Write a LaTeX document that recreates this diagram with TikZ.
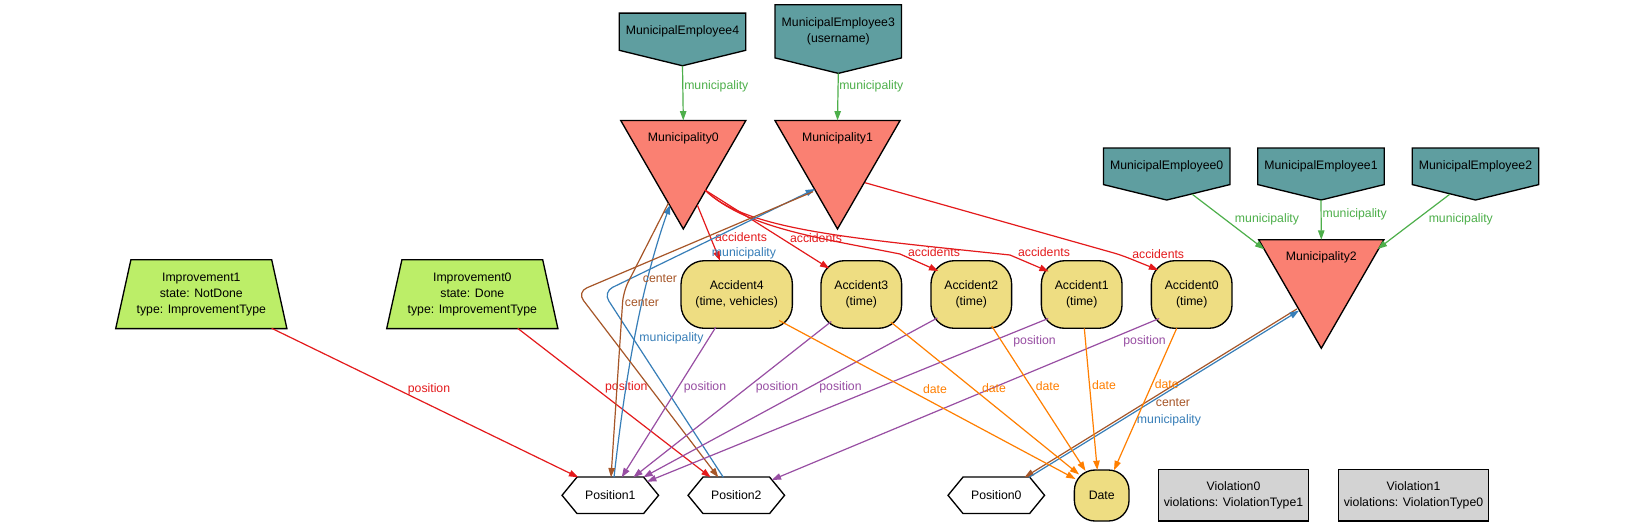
\documentclass[tikz,border=0pt]{standalone}
\usepackage{fontspec}
\setmainfont{Liberation Sans}
\usetikzlibrary{arrows.meta,calc}
\pgfdeclarelayer{bg}
\pgfdeclarelayer{shapes}
\pgfsetlayers{bg,shapes,main}
\definecolor{cadet}{HTML}{5F9EA0}
\definecolor{salmonc}{HTML}{FA8072}
\definecolor{accfill}{HTML}{EEDD82}
\definecolor{impfill}{HTML}{BCEE68}
\definecolor{violfill}{HTML}{D3D3D3}
\definecolor{cred}{HTML}{E41A1C}
\definecolor{cblue}{HTML}{377EB8}
\definecolor{cgreen}{HTML}{4DAF4A}
\definecolor{cpurple}{HTML}{984EA3}
\definecolor{corange}{HTML}{FF7F00}
\definecolor{cbrown}{HTML}{A65628}
\tikzset{
  base/.style={inner sep=0pt, align=center, font=\fontsize{9.2}{12}\selectfont, text=black},
  emp/.style={base, minimum width=94.5pt, minimum height=#1},
  muni/.style={base, minimum width=93.5pt, minimum height=26.4pt},
  acc/.style={base, draw=black, line width=1pt, fill=accfill, rounded corners=17.5pt, minimum height=50.7pt, minimum width=#1},
  datebox/.style={base, draw=black, line width=1pt, fill=accfill, rounded corners=15.5pt, minimum width=41pt, minimum height=38.25pt},
  posn/.style={base, minimum width=72pt, minimum height=27pt},
  impr/.style={base, minimum width=128pt, minimum height=51.2pt},
  viol/.style={base, draw=black, line width=1pt, fill=violfill, minimum width=112.8pt, minimum height=38.8pt},
  shapeline/.style={draw=black, line width=1pt, line join=miter},
  conn/.style={line width=0.9pt, draw=#1, -{Triangle[length=7pt,width=4.8pt]}},
  lbl/.style={base, text=#1},
}
\begin{document}
\begin{tikzpicture}[x=0.75pt,y=-0.75pt]
\begin{pgfonlayer}{bg}
\fill[white] (0,0) rectangle (1628,526);
\end{pgfonlayer}
\useasboundingbox (0,0) rectangle (1628,526);

% ---------- nodes ----------
\node[emp=27.5pt] (ME4) at (682.5,31.7) {MunicipalEmployee4};
\node[emp=39.5pt] (ME3) at (838.3,31.3) {MunicipalEmployee3\\(username)};
\node[emp=27pt] (ME0) at (1166.7,166.3) {MunicipalEmployee0};
\node[emp=27pt] (ME1) at (1321,166.3) {MunicipalEmployee1};
\node[emp=27pt] (ME2) at (1475.5,166.3) {MunicipalEmployee2};
\node[muni] (M0) at (683.3,138.3) {Municipality0};
\node[muni] (M1) at (837.5,138.3) {Municipality1};
\node[muni] (M2) at (1321.3,257.6) {Municipality2};
\node[impr] (I1) at (201.3,294.2) {Improvement1\\state: NotDone\\type: ImprovementType};
\node[impr] (I0) at (472.3,294.2) {Improvement0\\state: Done\\type: ImprovementType};
\node[acc=83.5pt] (A4) at (736.7,294.5) {Accident4\\(time, vehicles)};
\node[acc=60.5pt] (A3) at (861.3,294.5) {Accident3\\(time)};
\node[acc=60.5pt] (A2) at (971.3,294.5) {Accident2\\(time)};
\node[acc=60.5pt] (A1) at (1081.7,294.5) {Accident1\\(time)};
\node[acc=60.5pt] (A0) at (1191.7,294.5) {Accident0\\(time)};
\node[posn] (P1) at (610.3,495.3) {Position1};
\node[posn] (P2) at (736.3,495.3) {Position2};
\node[posn] (P0) at (996.3,495.3) {Position0};
\node[datebox] (D) at (1101.7,495.5) {Date};
\node[viol] (V0) at (1233.5,495.2) {Violation0\\violations: ViolationType1};
\node[viol] (V1) at (1413.5,495.2) {Violation1\\violations: ViolationType0};

% ---------- custom outlines ----------
\begin{pgfonlayer}{shapes}
\foreach \n in {ME4,ME3,ME0,ME1,ME2}
  \path[shapeline, fill=cadet] (\n.north west) -- (\n.north east) -- (\n.south east)
    -- ([yshift=-11.6pt]\n.south) -- (\n.south west) -- cycle;
\foreach \n in {M0,M1,M2}
  \path[shapeline, fill=salmonc] (\n.north west) -- (\n.north east)
    -- ([yshift=-81.4pt]\n.north) -- cycle;
\foreach \n in {I1,I0}
  \path[shapeline, fill=impfill] ([xshift=11.4pt]\n.north west) -- ([xshift=-11.4pt]\n.north east)
    -- (\n.south east) -- (\n.south west) -- cycle;
\foreach \n in {P1,P2,P0}
  \path[shapeline, fill=white] (\n.west) -- ([xshift=11.25pt]\n.north west)
    -- ([xshift=-11.25pt]\n.north east) -- (\n.east)
    -- ([xshift=-11.25pt]\n.south east) -- ([xshift=11.25pt]\n.south west) -- cycle;
\end{pgfonlayer}

% ---------- municipality (green) ----------
\draw[conn=cgreen] ([yshift=-11.6pt]ME4.south) -- (M0.north)
  node[lbl=cgreen] at (716.3,86.7) {municipality};
\draw[conn=cgreen] ([yshift=-11.6pt]ME3.south) -- (M1.north)
  node[lbl=cgreen] at (871.3,86.7) {municipality};
\draw[conn=cgreen] ($(ME0)+(25.6,28)$) -- ($(M2)+(-57,-8.3)$)
  node[lbl=cgreen] at (1267,219.3) {municipality};
\draw[conn=cgreen] ([yshift=-11.6pt]ME1.south) -- (M2.north)
  node[lbl=cgreen] at (1354.7,214.7) {municipality};
\draw[conn=cgreen] ($(ME2)+(-25.8,28)$) -- ($(M2)+(56.4,-8.6)$)
  node[lbl=cgreen] at (1460.8,219.3) {municipality};

% ---------- accidents (red) ----------
\draw[conn=cred] ($(M0)+(14,66.7)$) -- ($(A4)+(-16.7,-33.8)$)
  node[lbl=cred] at (741,236.7) {accidents};
\draw[conn=cred] ($(M0)+(21.7,51.7)$) -- ($(A3)+(-32,-26)$)
  node[lbl=cred] at (816,237.7) {accidents};
\draw[conn=cred] ($(M0)+(21.7,51.7)$) .. controls (745,228) and (820,238) .. (900,254)
  -- ($(A2)+(-33,-23.5)$)
  node[lbl=cred] at (934,251.7) {accidents};
\draw[conn=cred] ($(M0)+(21.7,51.7)$) .. controls (745,230) and (850,238) .. (1010,255)
  -- ($(A1)+(-33,-23)$)
  node[lbl=cred] at (1044,252) {accidents};
\draw[conn=cred, rounded corners=6pt] ($(M1)+(27.5,44.4)$) -- (1121,255) -- ($(A0)+(-33.5,-24.5)$)
  node[lbl=cred] at (1158.2,253.7) {accidents};

% ---------- improvement positions (red) ----------
\draw[conn=cred] ($(I1)+(70.4,34.1)$) -- ($(P1)+(-32,-18)$)
  node[lbl=cred] at (429,389) {position};
\draw[conn=cred] ($(I0)+(45.4,34.1)$) -- ($(P2)+(-25.6,-18)$)
  node[lbl=cred] at (626.3,387.7) {position};

% ---------- municipality (blue) / center (brown) ----------
\draw[conn=cblue] ($(P1)+(3.7,-18)$) .. controls (625,380) and (640,290) .. ($(M0)+(-13.3,66.7)$)
  node[lbl=cblue] at (671.5,338.3) {municipality};
\draw[conn=cblue, rounded corners=8pt] ($(P2)+(-13,-18)$) -- (603,292) -- ($(M1)+(-22.5,50.7)$)
  node[lbl=cblue] at (744,253.3) {municipality};
\draw[conn=cbrown, rounded corners=8pt] ($(M0)+(-15,65)$) -- (623.3,291.7) -- ($(P1)+(0.7,-18)$)
  node[lbl=cbrown] at (642,302.7) {center};
\draw[conn=cbrown, rounded corners=8pt] ($(M1)+(-24.5,53.4)$) -- (577,292) -- ($(P2)+(-18,-18)$)
  node[lbl=cbrown] at (660,278.7) {center};
\draw[conn=cbrown] ($(M2)+(-24.5,51.4)$) -- ($(P0)+(28.2,-18)$)
  node[lbl=cbrown] at (1173,402.7) {center};
\draw[conn=cblue] ($(P0)+(32.7,-18)$) -- ($(M2)+(-22.3,53)$)
  node[lbl=cblue] at (1169,420.7) {municipality};

% ---------- accident positions (purple) ----------
\draw[conn=cpurple] ($(A4)+(-21,32.8)$) -- ($(P1)+(11.4,-18)$)
  node[lbl=cpurple] at (705,387.7) {position};
\draw[conn=cpurple] ($(A3)+(-30,27)$) -- ($(P1)+(23,-18)$)
  node[lbl=cpurple] at (777,387.7) {position};
\draw[conn=cpurple] ($(A2)+(-34,23.5)$) -- ($(P1)+(33,-18)$)
  node[lbl=cpurple] at (840.5,387.7) {position};
\draw[conn=cpurple] ($(A1)+(-33.5,24)$) .. controls (1000,338) .. ($(P1)+(36.7,-13.6)$)
  node[lbl=cpurple] at (1034.5,341.7) {position};
\draw[conn=cpurple] ($(A0)+(-32.5,24)$) -- ($(P2)+(35.4,-15.3)$)
  node[lbl=cpurple] at (1144.5,341.7) {position};

% ---------- dates (orange) ----------
\draw[conn=corange] ($(A4)+(42.5,26)$) -- ($(D)+(-26.2,-16.5)$)
  node[lbl=corange] at (935,389.3) {date};
\draw[conn=corange] ($(A3)+(29.5,27.5)$) -- ($(D)+(-22.6,-21)$)
  node[lbl=corange] at (994,387.7) {date};
\draw[conn=corange] ($(A2)+(20.4,31.5)$) -- ($(D)+(-16.2,-24.6)$)
  node[lbl=corange] at (1047.7,385.7) {date};
\draw[conn=corange] ($(A1)+(2.6,33.8)$) -- ($(D)+(-4.4,-25.5)$)
  node[lbl=corange] at (1104,385) {date};
\draw[conn=corange] ($(A0)+(-15,33.8)$) -- ($(D)+(12.3,-25.3)$)
  node[lbl=corange] at (1166.7,384.3) {date};
\end{tikzpicture}
\end{document}
